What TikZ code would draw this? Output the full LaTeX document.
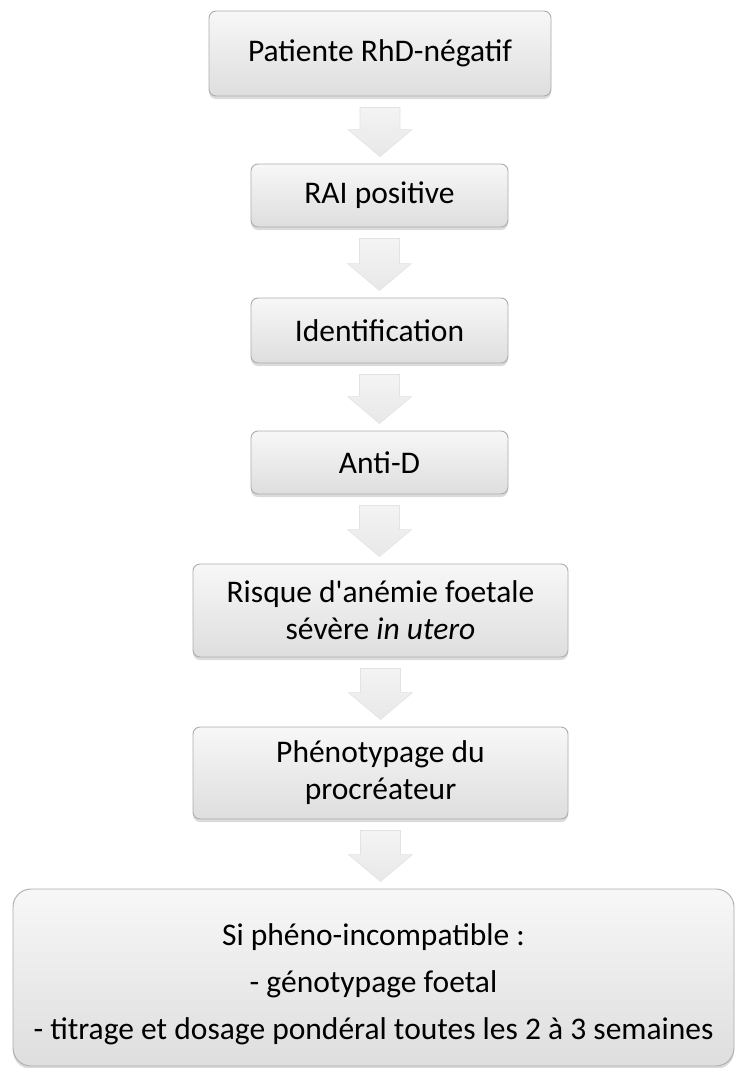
\documentclass[tikz,border=0pt]{standalone}
\usepackage{fontspec}
\setmainfont{Carlito}
\usetikzlibrary{calc,shadows}
\tikzset{
  stepbox/.style={draw=gray!65, line width=0.9pt, rounded corners=7pt,
    top color=gray!6, bottom color=gray!26, align=center, inner sep=0pt,
    font=\fontsize{31.5}{37}\selectfont, text=black,
    drop shadow={shadow xshift=0pt, shadow yshift=-3pt, opacity=0.35, fill=gray!80}},
  bigbox/.style={stepbox, rounded corners=18pt},
  bigtext/.style={align=center, inner sep=0pt, font=\fontsize{31.5}{47}\selectfont, text=black},
  flowarrow/.style={draw=gray!22, line width=0.6pt, top color=gray!9, bottom color=gray!18}
}
\newcommand{\flowarr}[2]{%
  \path let \p1=(#1.south), \p2=(#2.north) in
    [flowarrow] (\x1-20pt,\y1-11pt) -- (\x1+20pt,\y1-11pt) -- (\x1+20pt,\y2+34pt)
    -- (\x1+32pt,\y2+34pt) -- (\x1,\y2+7pt) -- (\x1-32pt,\y2+34pt)
    -- (\x1-20pt,\y2+34pt) -- cycle;}
\begin{document}
\begin{tikzpicture}[x=1pt,y=-1pt]
\useasboundingbox (0,0) rectangle (736,1068);
\node[stepbox, minimum width=342pt, minimum height=85pt] (b1) at (380,53.5) {Patiente RhD-négatif};
\node[stepbox, minimum width=257pt, minimum height=63pt] (b2) at (379.5,195.5) {RAI positive};
\node[stepbox, minimum width=257pt, minimum height=65pt] (b3) at (379.5,330.5) {Identification};
\node[stepbox, minimum width=257pt, minimum height=63pt] (b4) at (379.5,462.5) {Anti-D};
\node[stepbox, minimum width=375pt, minimum height=93pt] (b5) at (380.5,610.5) {Risque d\textquotesingle anémie foetale\\sévère \textit{in utero}};
\node[stepbox, minimum width=375pt, minimum height=92pt] (b6) at (380.5,773) {Phénotypage du\\procréateur};
\node[bigbox, minimum width=721pt, minimum height=177pt] (b7) at (373.5,977.5) {};
\node[bigtext] (b7t) at ($(b7.center)+(0pt,-7pt)$) {Si phéno-incompatible :\\- génotypage foetal\\- titrage et dosage pondéral toutes les 2 à 3 semaines};
\flowarr{b1}{b2}
\flowarr{b2}{b3}
\flowarr{b3}{b4}
\flowarr{b4}{b5}
\flowarr{b5}{b6}
\flowarr{b6}{b7}
\end{tikzpicture}
\end{document}
